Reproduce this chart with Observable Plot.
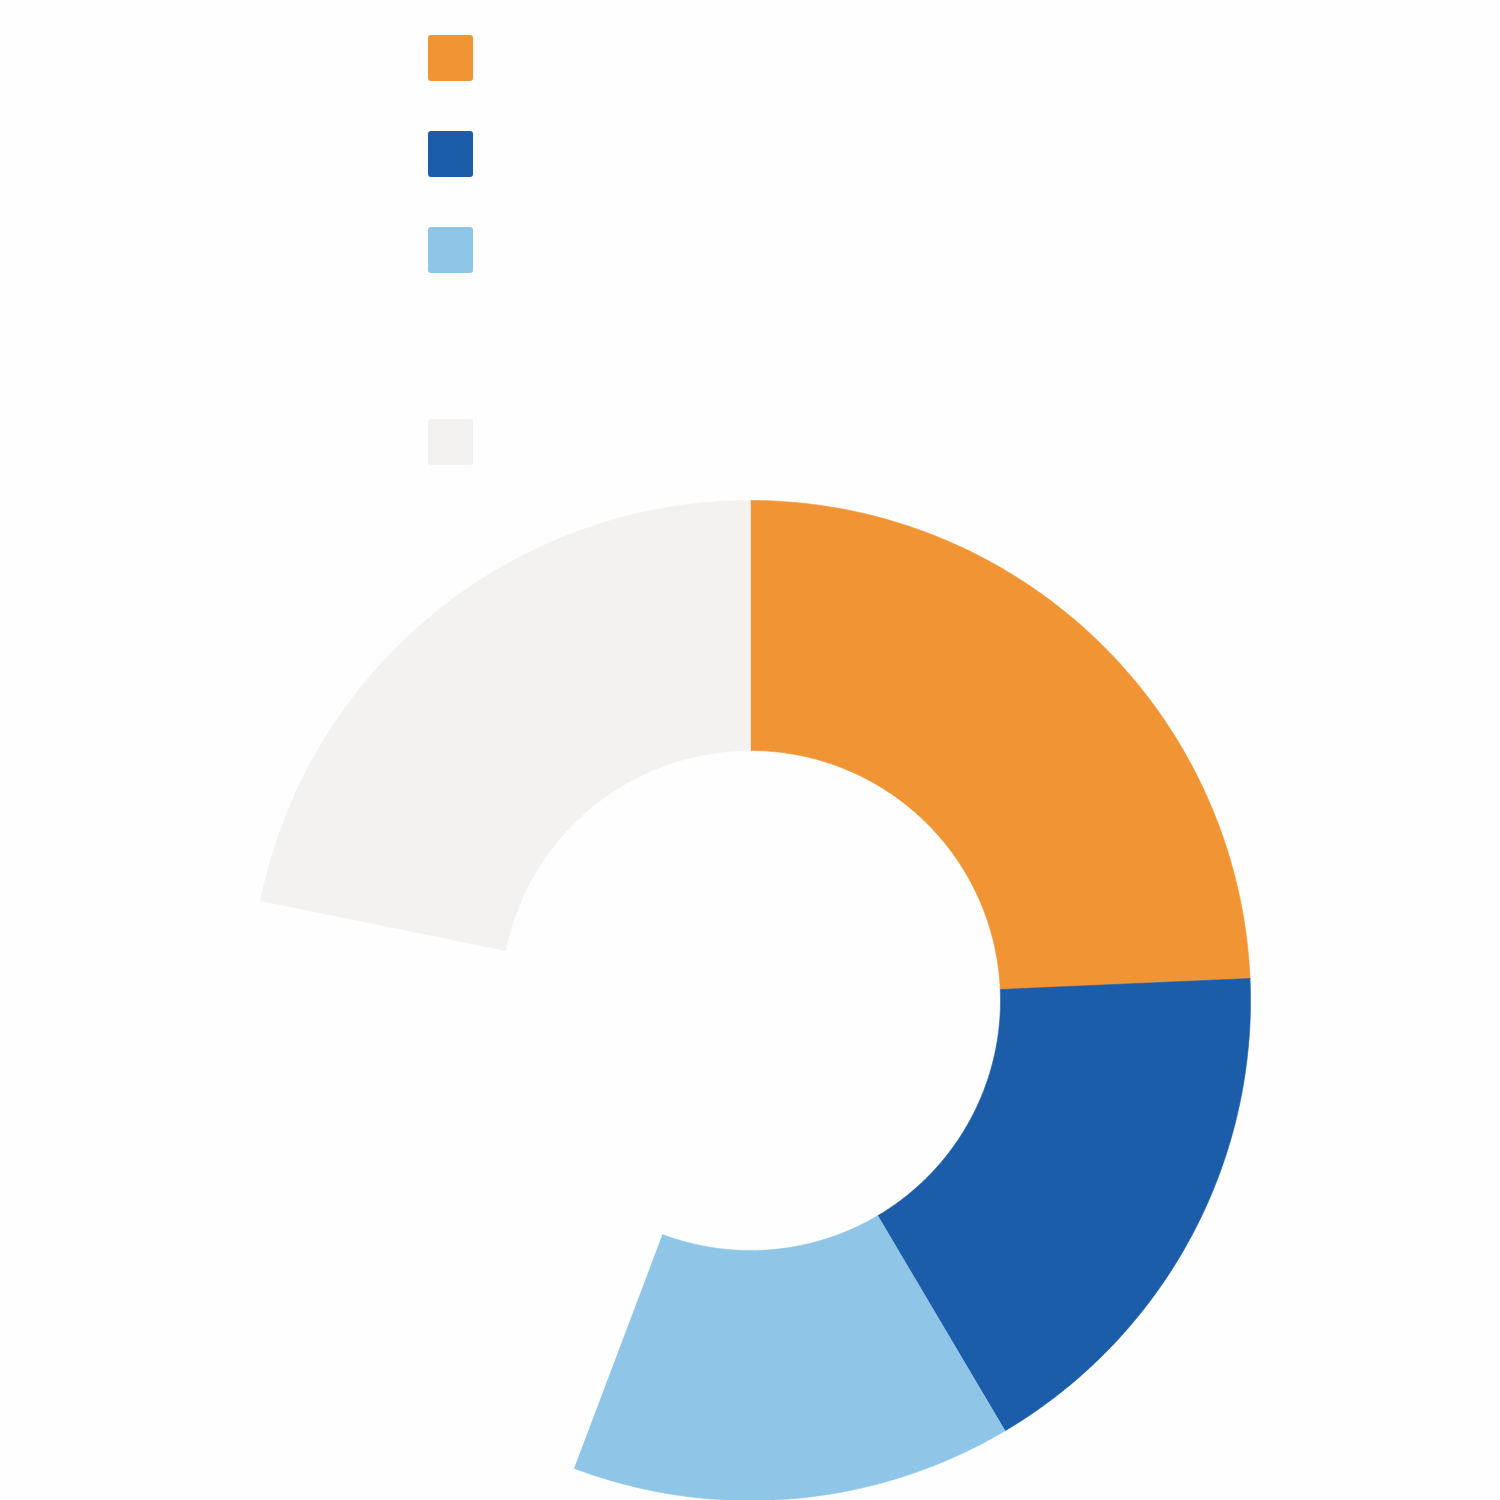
<!DOCTYPE html>
<html>
<head>
<meta charset="utf-8">
<script src="https://cdn.jsdelivr.net/npm/d3@7"></script>
<script src="https://cdn.jsdelivr.net/npm/@observablehq/plot@0.6"></script>
<style>
  body { margin: 0; background: #fefefe; }
  #chart svg { display: block; }
</style>
</head>
<body>
<div id="chart"></div>
<script>
// slice order is clockwise from 12 o'clock; the 4th one is a blank spacer
const categories = ["Segment 1", "Segment 2", "Segment 3", "Blank", "Segment 4"];
const shares = [24.3, 17.2, 14.25, 22.45, 21.8];
const colors = ["#f09434", "#1b5da9", "#8fc6e7", "#fefefe", "#f3f2f0"];

const total = d3.sum(shares);
const outer = 1, inner = 0.5;

// build ring polygons in data units (centre at 0,0)
let points = [];
let acc = 0;
categories.forEach((c, i) => {
  const a0 = acc / total * 2 * Math.PI;
  acc += shares[i];
  const a1 = acc / total * 2 * Math.PI;
  const n = 200;
  const ring = [];
  for (let k = 0; k <= n; k++) {
    const a = a0 + (a1 - a0) * k / n;
    ring.push({category: c, x: outer * Math.sin(a), y: outer * Math.cos(a)});
  }
  for (let k = n; k >= 0; k--) {
    const a = a0 + (a1 - a0) * k / n;
    ring.push({category: c, x: inner * Math.sin(a), y: inner * Math.cos(a)});
  }
  ring.push(ring[0]);
  points = points.concat(ring);
});

// legend swatches, stacked top-left of the ring
const sw = 0.092, gap = 0.192;
const legendX = -0.644;

let chart = Plot.plot({
  width: 1500,
  height: 1500,
  margin: 0,
  x: {domain: [-1.5, 1.5], axis: null},
  y: {domain: [-1, 2], axis: null},
  color: {domain: categories, range: colors},
  marks: [
    Plot.line(points, {
      x: 'x',
      y: 'y',
      z: 'category',
      fill: 'category',
      stroke: 'category',
      strokeWidth: 0.6,
    }),
    Plot.rect(categories, {
      x1: legendX,
      x2: legendX + 0.09,
      y1: (d, i) => 2 - 0.07 - i * gap,
      y2: (d, i) => 2 - 0.07 - i * gap - sw,
      fill: d => d,
      rx: 3,
    }),
  ],
  style: {
    background: '#fefefe',
  },
});
d3.select('#chart').append(() => chart);
</script>
</body>
</html>
